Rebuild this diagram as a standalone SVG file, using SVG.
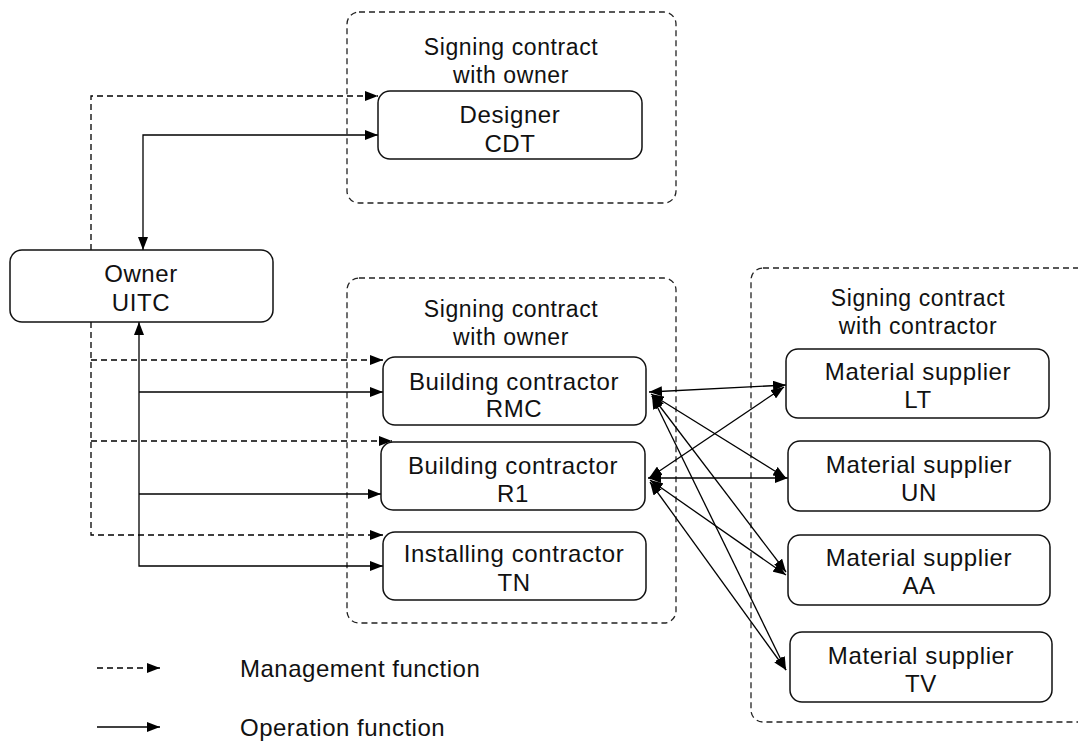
<svg xmlns="http://www.w3.org/2000/svg" width="1078" height="742" viewBox="0 0 1078 742">
<defs>
<marker id="ah" viewBox="0 0 13 10" refX="13" refY="5" markerWidth="13" markerHeight="10" markerUnits="userSpaceOnUse" orient="auto-start-reverse">
<path d="M0,0 L13,5 L0,10 Z" fill="#000"/>
</marker>
<style>
.grp{fill:none;stroke:#222;stroke-width:1.3;stroke-dasharray:6,4}
.box{fill:#fff;stroke:#111;stroke-width:1.5}
.t{font-family:"Liberation Sans",Arial,sans-serif;font-size:24px;fill:#111;text-anchor:middle;letter-spacing:0.6px}
.h{font-family:"Liberation Sans",Arial,sans-serif;font-size:23px;fill:#111;text-anchor:middle;letter-spacing:0.6px}
.lg{font-family:"Liberation Sans",Arial,sans-serif;font-size:24px;fill:#111;letter-spacing:0.5px}
.d{fill:none;stroke:#000;stroke-width:1.3;stroke-dasharray:6,4}
.s{fill:none;stroke:#000;stroke-width:1.3}
</style>
</defs>
<rect width="1078" height="742" fill="#fff"/>

<g id="groups">
<rect id="grp-designer" class="grp" x="347" y="12" width="329" height="191" rx="12"/>
<rect id="grp-contractors" class="grp" x="347" y="278" width="329" height="345" rx="12"/>
<rect id="grp-suppliers" class="grp" x="751" y="268" width="340" height="454" rx="12"/>
<text class="h" x="511" y="55">Signing contract</text>
<text class="h" x="511" y="83">with owner</text>
<text class="h" x="511" y="317">Signing contract</text>
<text class="h" x="511" y="345">with owner</text>
<text class="h" x="918" y="306">Signing contract</text>
<text class="h" x="918" y="334">with contractor</text>
</g>

<g id="connectors">
<path class="d" d="M91,250 V96 H378" marker-end="url(#ah)"/>
<path class="d" d="M91,322 V535 H383" marker-end="url(#ah)"/>
<path class="d" d="M91,360 H383" marker-end="url(#ah)"/>
<path class="d" d="M91,441 H392" marker-end="url(#ah)"/>
<path class="s" d="M378,135 H143 V250" marker-start="url(#ah)" marker-end="url(#ah)"/>
<path class="s" d="M139,322 V566 H383" marker-start="url(#ah)" marker-end="url(#ah)"/>
<path class="s" d="M139,392 H383" marker-end="url(#ah)"/>
<path class="s" d="M139,494 H381" marker-end="url(#ah)"/>
<path class="s" d="M649,392 L786,385" marker-start="url(#ah)" marker-end="url(#ah)"/>
<path class="s" d="M649,478 L784,387" marker-start="url(#ah)" marker-end="url(#ah)"/>
<path class="s" d="M651,394 L786,478" marker-start="url(#ah)" marker-end="url(#ah)"/>
<path class="s" d="M648,478 L788,478" marker-start="url(#ah)" marker-end="url(#ah)"/>
<path class="s" d="M652,396 L786,572" marker-start="url(#ah)" marker-end="url(#ah)"/>
<path class="s" d="M650,480 L786,575" marker-start="url(#ah)" marker-end="url(#ah)"/>
<path class="s" d="M652,396 L786,670" marker-start="url(#ah)" marker-end="url(#ah)"/>
<path class="s" d="M650,482 L786,670" marker-start="url(#ah)" marker-end="url(#ah)"/>
</g>

<g id="node-designer">
<rect class="box" x="378" y="91" width="264" height="68" rx="12"/>
<text class="t" x="510" y="123">Designer</text>
<text class="t" x="510" y="152">CDT</text>
</g>
<g id="node-owner">
<rect class="box" x="10" y="250" width="263" height="72" rx="12"/>
<text class="t" x="141" y="282">Owner</text>
<text class="t" x="141" y="311">UITC</text>
</g>
<g id="node-rmc">
<rect class="box" x="383" y="357" width="263" height="68" rx="12"/>
<text class="t" x="514" y="390">Building contractor</text>
<text class="t" x="514" y="417">RMC</text>
</g>
<g id="node-r1">
<rect class="box" x="381" y="442" width="264" height="68" rx="12"/>
<text class="t" x="513" y="474">Building contractor</text>
<text class="t" x="513" y="502">R1</text>
</g>
<g id="node-tn">
<rect class="box" x="383" y="532" width="263" height="68" rx="12"/>
<text class="t" x="514" y="562">Installing contractor</text>
<text class="t" x="514" y="591">TN</text>
</g>
<g id="node-lt">
<rect class="box" x="786" y="349" width="263" height="69" rx="12"/>
<text class="t" x="918" y="380">Material supplier</text>
<text class="t" x="918" y="408">LT</text>
</g>
<g id="node-un">
<rect class="box" x="788" y="441" width="262" height="70" rx="12"/>
<text class="t" x="919" y="473">Material supplier</text>
<text class="t" x="919" y="501">UN</text>
</g>
<g id="node-aa">
<rect class="box" x="788" y="535" width="262" height="70" rx="12"/>
<text class="t" x="919" y="566">Material supplier</text>
<text class="t" x="919" y="594">AA</text>
</g>
<g id="node-tv">
<rect class="box" x="790" y="632" width="262" height="70" rx="12"/>
<text class="t" x="921" y="664">Material supplier</text>
<text class="t" x="921" y="692">TV</text>
</g>

<g id="legend">
<path class="d" d="M97,668 H160" marker-end="url(#ah)"/>
<text class="lg" x="240" y="677">Management function</text>
<path class="s" d="M97,727 H160" marker-end="url(#ah)"/>
<text class="lg" x="240" y="736">Operation function</text>
</g>
</svg>
